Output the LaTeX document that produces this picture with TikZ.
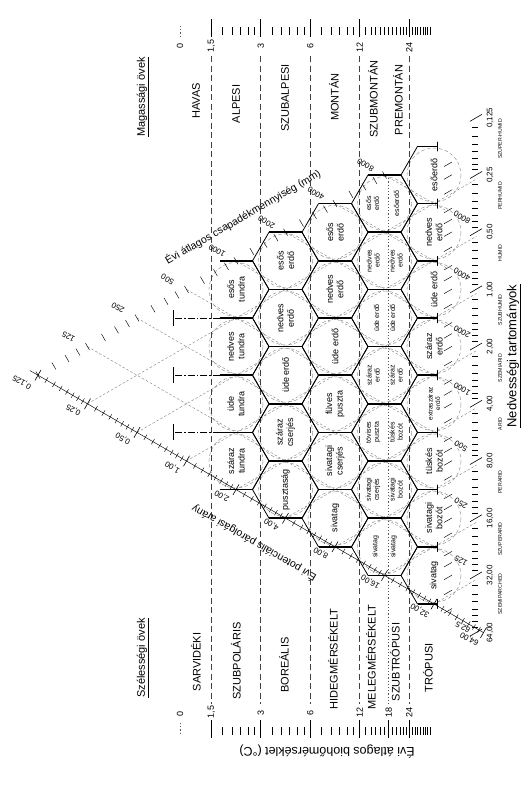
\documentclass[tikz,border=0pt]{standalone}
\usepackage{fontspec}
\setmainfont{Liberation Sans}
\begin{document}
\begin{tikzpicture}[x=1pt,y=-1pt,
  tline/.style={line width=0.6pt, black!75, dash pattern=on 6pt off 3.5pt},
  tdot/.style={line width=0.5pt, black!65, dash pattern=on 1.2pt off 2pt},
  guide/.style={line width=0.35pt, black!55, dash pattern=on 2.5pt off 2pt},
  circ/.style={line width=0.4pt, black!50, dash pattern=on 3.5pt off 2.5pt},
  hexs/.style={line width=0.8pt, line cap=round},
  hexh/.style={line width=1.7pt},
  teeline/.style={line width=0.7pt, dash pattern=on 7pt off 2pt on 1.5pt off 2pt},
  rtick/.style={line width=0.45pt},
  cellt/.style={rotate=90, align=center, inner sep=0pt, font=\fontsize{9}{10.5}\selectfont},
  smc/.style={rotate=90, align=center, inner sep=0pt, font=\fontsize{7}{8}\selectfont},
  belt/.style={rotate=90, inner sep=0pt, font=\fontsize{11}{13}\selectfont},
  tnum/.style={rotate=90, inner sep=0pt, font=\fontsize{9}{10}\selectfont},
  snum/.style={rotate=150, inner sep=0pt, font=\fontsize{8}{9}\selectfont},
  bnum/.style={rotate=90, inner sep=0pt, font=\fontsize{8}{9}\selectfont},
  prov/.style={rotate=90, inner sep=0pt, font=\fontsize{5.2}{6}\selectfont},
  axt/.style={inner sep=0pt, font=\fontsize{10.5}{12}\selectfont},
]
\useasboundingbox (0,0) rectangle (530,788);
\fill[white] (0,0) rectangle (530,788);

% ---------- dashed circles
\foreach \p/\e in {3/0,2/1,1/2,0/3, 4/0,3/1,2/2,1/3,0/4, 5/0,4/1,3/2,2/3,1/4,0/5, 6/0,5/1,4/2,3/3,2/4,1/5,0/6, 7/0,6/1,5/2,4/3,3/4,2/5,1/6,0/7}{
  \pgfmathsetmacro\cx{87.5+49.5*(\p+\e)}
  \pgfmathsetmacro\cy{375.2+28.6*(\e-\p)}
  \draw[circ] (\cx,\cy) circle[radius=27];
}

% ---------- guide lines (precipitation and PET ratio)
\begin{scope}[shift={(87.5,375.2)}, x={(49.5pt,28.6pt)}, y={(49.5pt,-28.6pt)}]
  \foreach \c in {0.5,1.5,2.5,3.5,4.5,5.5,6.5}
    \draw[guide] (\c,-0.5) -- (\c,7.24-\c);
  \foreach \c in {0.5,1.5,2.5,3.5,4.5,5.5,6.5,7.5}
    \draw[guide] (-0.5,\c) -- (7.86-\c,\c);
\end{scope}

% ---------- biotemperature lines
\foreach \x in {211.25,260.75,310.25,359.75,409.25}
  \draw[tline] (\x,56) -- (\x,704);
\draw[tdot] (388.7,175) -- (388.7,704);

% ---------- biotemperature rulers (top and bottom)
\foreach \T in {1.75,2,2.25,2.5,2.75,3.5,4,4.5,5,5.5,7,8,9,10,11,13,14,15,16,17,19,20,21,22,23,25,26,27,28,29,30,31,32}{
  \pgfmathsetmacro\tx{211.25+49.5*ln(\T/1.5)/ln(2)}
  \draw[rtick] (\tx,27) -- (\tx,35);
  \draw[rtick] (\tx,727) -- (\tx,735);
}
\draw[rtick] (388.7,27) -- (388.7,35);
\foreach \x in {211.25,260.75,310.25,359.75,409.25}{
  \draw[line width=0.6pt] (\x,19) -- (\x,37);
  \draw[line width=0.6pt] (\x,720) -- (\x,738);
}
\draw[line width=0.6pt] (388.7,720) -- (388.7,738);
\draw[tdot] (180,26) -- (180,37);
\draw[tdot] (180,723) -- (180,735);

\node[tnum] (tt0) at (180,46) {0};
\node[tnum] (tt1) at (211.25,46) {1,5};
\node[tnum] (tt2) at (260.75,46) {3};
\node[tnum] (tt3) at (310.25,46) {6};
\node[tnum] (tt4) at (359.75,47) {12};
\node[tnum] (tt5) at (409.25,47) {24};
\node[tnum] (tb0) at (180,714) {0};
\node[tnum] (tb1) at (211.25,712) {1,5};
\node[tnum] (tb2) at (260.75,713) {3};
\node[tnum] (tb3) at (310.25,713) {6};
\node[tnum] (tb4) at (359.75,712) {12};
\node[tnum] (tb5) at (388.7,712) {18};
\node[tnum] (tb6) at (409.25,712) {24};

\node[inner sep=0pt, rotate=180, font=\fontsize{12.5}{14}\selectfont] (btitle) at (327,752) {Évi átlagos biohőmérséklet (°C)};

% ---------- belts
\node[belt] (mtitle) at (143,97) {\underline{Magassági övek}};
\node[belt] (a1) at (196,101) {HAVAS};
\node[belt] (a2) at (236,104) {ALPESI};
\node[belt] (a3) at (285,98) {SZUBALPESI};
\node[belt] (a4) at (334,97) {MONTÁN};
\node[belt] (a5) at (373,99) {SZUBMONTÁN};
\node[belt] (a6) at (398,100) {PREMONTÁN};

\node[belt] (stitle) at (143,658) {\underline{Szélességi övek}};
\node[belt] (l1) at (196,662) {SARVIDÉKI};
\node[belt] (l2) at (236,661) {SZUBPOLÁRIS};
\node[belt] (l3) at (284,665) {BOREÁLIS};
\node[belt] (l4) at (333,659) {HIDEGMÉRSÉKELT};
\node[belt] (l5) at (371,657) {MELEGMÉRSÉKELT};
\node[belt] (l6) at (395,662) {SZUBTRÓPUSI};
\node[belt] (l7) at (428,668) {TRÓPUSI};

% ---------- precipitation scale (right side of triangle)
\foreach \k in {0,...,6}{
  \foreach \f in {1,1.25,1.5,1.75}{
    \pgfmathsetmacro\c{\k+ln(\f)/ln(2)-0.5}
    \pgfmathsetmacro\X{87.5+49.5*(\c-0.5)}
    \pgfmathsetmacro\Y{375.2-28.6*(\c+0.5)}
    \draw[rtick] (\X-2,\Y-3.46) -- (\X+2,\Y+3.46);
  }
}
\draw[rtick] (382.5,171.5) -- (386.5,178.5);

\node[snum] (pr1) at (68.5,336.6) {125};
\node[snum] (pr2) at (118,308) {250};
\node[snum] (pr3) at (167.5,279.4) {500};
\node[snum] (pr4) at (217,250.8) {1000};
\node[snum] (pr5) at (266.5,222.2) {2000};
\node[snum] (pr6) at (316,193.6) {4000};
\node[snum] (pr7) at (365.5,165) {8000};
\node[axt, rotate=30] (ptitle) at (243,217) {Évi átlagos csapadékmennyiség (mm)};

% ---------- PET ratio scale (left side of triangle)
\draw[rtick] (30,370.6) -- (483.5,632.6);
\foreach \k in {0,...,8}{
  \foreach \i in {1,...,7}{
    \pgfmathsetmacro\c{\k+ln(1+\i/8)/ln(2)-0.5}
    \pgfmathsetmacro\X{87.5+49.5*(\c-0.5)}
    \pgfmathsetmacro\Y{375.2+28.6*(\c+0.5)}
    \draw[rtick] (\X-1.5,\Y+2.6) -- (\X+1.5,\Y-2.6);
  }
}
\foreach \k in {0,...,9}{
  \pgfmathsetmacro\X{87.5+49.5*(\k-1)}
  \pgfmathsetmacro\Y{375.2+28.6*\k}
  \draw[line width=0.6pt] (\X-3,\Y+5.2) -- (\X+3,\Y-5.2);
}
\node[snum] (pe0) at (22,382) {0,125};
\node[snum] (pe1) at (73.5,410) {0,25};
\node[snum] (pe2) at (123,438.6) {0,50};
\node[snum] (pe3) at (172.5,467.2) {1,00};
\node[snum] (pe4) at (222,495.8) {2,00};
\node[snum] (pe5) at (271.5,524.4) {4,00};
\node[snum] (pe6) at (321,553) {8,00};
\node[snum] (pe7) at (370.5,581.6) {16,00};
\node[snum] (pe8) at (420,610.2) {32,00};
\node[snum] (pe9) at (469.5,638.8) {64,00};
\node[axt, rotate=150] (etitle) at (254,543) {Évi potenciális párolgási arány};

% ---------- base: precipitation ruler and labels
\foreach \k in {0,...,7}{
  \foreach \f in {1,1.25,1.5,1.75}{
    \pgfmathsetmacro\c{\k+ln(\f)/ln(2)-0.5}
    \pgfmathsetmacro\Y{375.2+28.6*(7.24-2*\c)}
    \draw[rtick] (444,\Y+2.3) -- (452,\Y-2.3);
  }
}
\node[snum] (pb0) at (463,627) {62,5};
\node[snum] (pb1) at (461,561) {125};
\node[snum] (pb2) at (461,503.4) {250};
\node[snum] (pb3) at (461,446.2) {500};
\node[snum] (pb4) at (462,389) {1000};
\node[snum] (pb5) at (462,331.8) {2000};
\node[snum] (pb6) at (462,274.6) {4000};
\node[snum] (pb7) at (462,217.4) {8000};

% ---------- base: humidity provinces ruler
\foreach \k in {0,...,8}{
  \foreach \i in {1,...,7}{
    \pgfmathsetmacro\Y{117.8+57.2*(\k+ln(1+\i/8)/ln(2))}
    \draw[rtick] (472,\Y) -- (478,\Y);
  }
}
\foreach \k in {0,...,9}{
  \pgfmathsetmacro\Y{117.8+57.2*\k}
  \draw[line width=0.6pt] (470,\Y+3.5) -- (482,\Y-3.5);
}
\node[bnum] (h0) at (490,117.8) {0,125};
\node[bnum] (h1) at (490,175) {0,25};
\node[bnum] (h2) at (490,232.2) {0,50};
\node[bnum] (h3) at (490,289.4) {1,00};
\node[bnum] (h4) at (490,346.6) {2,00};
\node[bnum] (h5) at (490,403.8) {4,00};
\node[bnum] (h6) at (490,461) {8,00};
\node[bnum] (h7) at (490,518.2) {16,00};
\node[bnum] (h8) at (490,575.4) {32,00};
\node[bnum] (h9) at (490,632.6) {64,00};
\node[prov] (q0) at (500,139) {SZUPER-HUMID};
\node[prov] (q1) at (500,196) {PERHUMID};
\node[prov] (q2) at (500,253) {HUMID};
\node[prov] (q3) at (500,310) {SZUBHUMID};
\node[prov] (q4) at (500,368) {SZEMIARID};
\node[prov] (q5) at (500,424) {ARID};
\node[prov] (q6) at (500,482) {PERARID};
\node[prov] (q7) at (500,539) {SZUPERARID};
\node[prov] (q8) at (500,594) {SZEMIPARCHED};
\node[belt, font=\fontsize{13}{15}\selectfont] (htitle) at (514,356) {\underline{Nedvességi tartományok}};

% ---------- hexagons
% subpolar row (upper-left edges replaced by polar boundaries)
\foreach \p/\e in {3/0,2/1,1/2,0/3}{
  \pgfmathsetmacro\cx{87.5+49.5*(\p+\e)}
  \pgfmathsetmacro\cy{375.2+28.6*(\e-\p)}
  \draw[hexs] (\cx+16.5,\cy-28.6) -- (\cx+33,\cy) -- (\cx+16.5,\cy+28.6);
  \draw[hexh] (\cx-16.5,\cy-28.6) -- (\cx+16.5,\cy-28.6);
  \draw[hexh] (\cx-16.5,\cy+28.6) -- (\cx+16.5,\cy+28.6);
}
% full rows
\foreach \p/\e in {4/0,3/1,2/2,1/3,0/4, 5/0,4/1,3/2,2/3,1/4,0/5, 6/0,5/1,4/2,3/3,2/4,1/5,0/6}{
  \pgfmathsetmacro\cx{87.5+49.5*(\p+\e)}
  \pgfmathsetmacro\cy{375.2+28.6*(\e-\p)}
  \draw[hexs] (\cx+16.5,\cy-28.6) -- (\cx+33,\cy) -- (\cx+16.5,\cy+28.6);
  \draw[hexs] (\cx-16.5,\cy-28.6) -- (\cx-33,\cy) -- (\cx-16.5,\cy+28.6);
  \draw[hexh] (\cx-16.5,\cy-28.6) -- (\cx+16.5,\cy-28.6);
  \draw[hexh] (\cx-16.5,\cy+28.6) -- (\cx+16.5,\cy+28.6);
}
% tropical row (cut by the base)
\foreach \p/\e in {7/0,6/1,5/2,4/3,3/4,2/5,1/6,0/7}{
  \pgfmathsetmacro\cx{87.5+49.5*(\p+\e)}
  \pgfmathsetmacro\cy{375.2+28.6*(\e-\p)}
  \draw[hexs] (\cx-16.5,\cy-28.6) -- (\cx-33,\cy) -- (\cx-16.5,\cy+28.6);
  \draw[hexh] (\cx-16.5,\cy-28.6) -- (\cx+3,\cy-28.6);
  \draw[hexh] (\cx-16.5,\cy+28.6) -- (\cx+3,\cy+28.6);
  \draw[hexs] (\cx+3,\cy-33) -- (\cx+3,\cy-24);
  \draw[hexs] (\cx+3,\cy+24) -- (\cx+3,\cy+33);
}
% polar boundaries
\foreach \y in {318,375.2,432.4}{
  \draw[teeline] (219.5,\y) -- (173,\y);
  \draw[line width=0.8pt] (173,\y-8) -- (173,\y+8);
}

% ---------- cell labels
\foreach \p/\e/\txt in {3/0/{esős\\tundra},2/1/{nedves\\tundra},1/2/{üde\\tundra},0/3/{száraz\\tundra},
  4/0/{esős\\erdő},3/1/{nedves\\erdő},2/2/{üde erdő},1/3/{száraz\\cserjés},0/4/{pusztaság},
  5/0/{esős\\erdő},4/1/{nedves\\erdő},3/2/{üde erdő},2/3/{füves\\puszta},1/4/{sivatagi\\cserjés},0/5/{sivatag},
  7/0/{esőerdő},6/1/{nedves\\erdő},5/2/{üde erdő},4/3/{száraz\\erdő},2/5/{tüskés\\bozót},1/6/{sivatagi\\bozót},0/7/{sivatag}}{
  \pgfmathsetmacro\cx{87.5+49.5*(\p+\e)}
  \pgfmathsetmacro\cy{375.2+28.6*(\e-\p)}
  \node[cellt] (cell-\p-\e) at (\cx,\cy) {\txt};
}
\node[smc, font=\fontsize{6.5}{7.5}\selectfont] (cell-3-4) at (434,403.8) {extraszáraz\\erdő};
\foreach \p/\e/\ta/\tb/\dx in {6/0/{esős\\erdő}/{esőerdő}/12, 5/1/{nedves\\erdő}/{nedves\\erdő}/11.5,
  4/2/{üde erdő}/{üde erdő}/8, 3/3/{száraz\\erdő}/{száraz\\erdő}/11.5, 2/4/{tövises\\puszta}/{tüskés\\bozót}/11.5,
  1/5/{sivatagi\\cserjés}/{sivatagi\\bozót}/11.5, 0/6/{sivatag}/{sivatag}/9}{
  \pgfmathsetmacro\cx{87.5+49.5*(\p+\e)}
  \pgfmathsetmacro\cy{375.2+28.6*(\e-\p)}
  \node[smc] (cell-\p-\e-a) at (\cx-\dx,\cy) {\ta};
  \node[smc] (cell-\p-\e-b) at (\cx+\dx,\cy) {\tb};
}
\end{tikzpicture}
\end{document}
